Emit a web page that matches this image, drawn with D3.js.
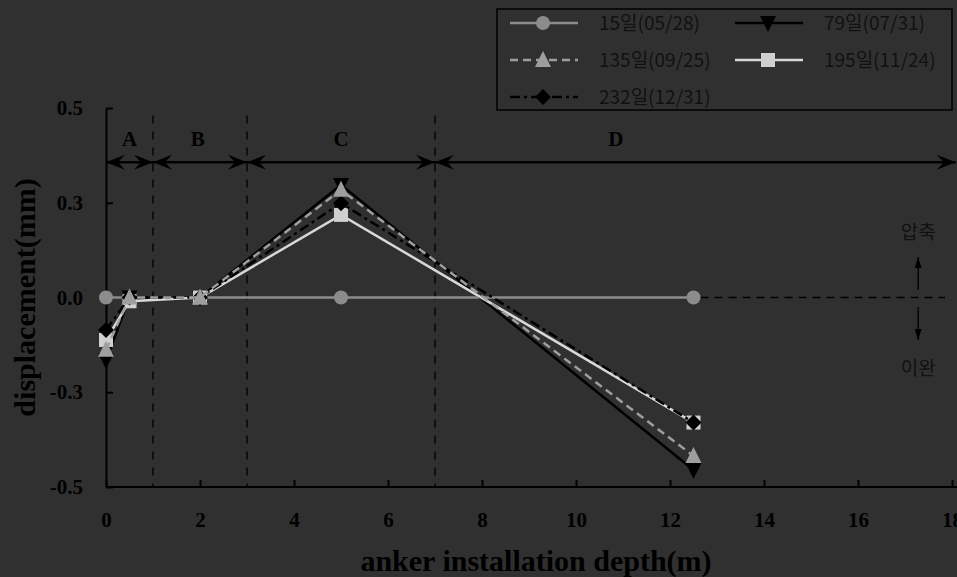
<!DOCTYPE html>
<html>
<head>
<meta charset="utf-8">
<script src="https://cdn.jsdelivr.net/npm/d3@7"></script>
<style>
  html, body { margin: 0; padding: 0; background: #303030; }
  svg { display: block; }
</style>
</head>
<body>
<svg id="chart" width="957" height="577"></svg>
<script>
// Anchor displacement by installation depth, per measurement date
const depth   = [0, 0.5, 2, 5, 12.5];
const day15   = [0, 0, 0, 0, 0];
const day79   = [-0.165, 0.0, 0.0, 0.297, -0.455];
const day135  = [-0.138, 0.0, 0.0, 0.284, -0.418];
const day195  = [-0.112, -0.01, 0.0, 0.218, -0.33];
const day232  = [-0.086, 0.0, 0.0, 0.249, -0.33];

const seriesNames = ["15일(05/28)", "79일(07/31)", "135일(09/25)", "195일(11/24)", "232일(12/31)"];

const xTicks = [0, 2, 4, 6, 8, 10, 12, 14, 16, 18];
const yTicks = [-0.5, -0.25, 0, 0.25, 0.5];
const yTickLabels = ["-0.5", "-0.3", "0.0", "0.3", "0.5"];

const zoneNames  = ["A", "B", "C", "D"];
const zoneBounds = [0, 1, 3, 7, 18];
const zoneLabelAt = [0.5, 1.95, 5, 10.85];

const W = 957, H = 577;
const svg = d3.select("#chart");
svg.append("rect").attr("width", W).attr("height", H).attr("fill", "#303030");

const x = d3.scaleLinear().domain([0, 18]).range([106, 952]);
const y = d3.scaleLinear().domain([-0.5, 0.5]).range([487, 108]);

const serif = "'Liberation Serif', 'Times New Roman', serif";
const sans = "'Noto Sans CJK KR', 'Noto Sans', sans-serif";

// marker shapes
const shapes = {
  circle:  "M7,0A7,7 0 1,1 -7,0A7,7 0 1,1 7,0Z",
  down:    "M0,9L8,-7L-8,-7Z",
  up:      "M0,-9L8,7L-8,7Z",
  square:  "M-7,-7H7V7H-7Z",
  diamond: "M0,-8L8,0L0,8L-8,0Z"
};

const series = [
  { name: seriesNames[0], values: day15,  stroke: "#8c8c8c", dash: null,         fill: "#8c8c8c", shape: "circle" },
  { name: seriesNames[1], values: day79,  stroke: "#000000", dash: null,         fill: "#000000", shape: "down" },
  { name: seriesNames[2], values: day135, stroke: "#9e9e9e", dash: "8,5",        fill: "#9e9e9e", shape: "up" },
  { name: seriesNames[3], values: day195, stroke: "#d8d8d8", dash: null,         fill: "#d0d0d0", shape: "square" },
  { name: seriesNames[4], values: day232, stroke: "#000000", dash: "10,4,3,4",   fill: "#000000", shape: "diamond" }
];
// stacking order of the plotted series (triangles end up on top)
const drawOrder = [0, 1, 3, 4, 2];

// arrowhead definitions
const defs = svg.append("defs");
defs.append("marker")
  .attr("id", "zoneHead")
  .attr("markerUnits", "userSpaceOnUse")
  .attr("viewBox", "-20 -9 21 18")
  .attr("refX", 0).attr("refY", 0)
  .attr("markerWidth", 21).attr("markerHeight", 18)
  .attr("orient", "auto-start-reverse")
  .append("path")
  .attr("d", "M0,0L-19,-7.5L-12,0L-19,7.5Z")
  .attr("fill", "#000");
defs.append("marker")
  .attr("id", "smallHead")
  .attr("markerUnits", "userSpaceOnUse")
  .attr("viewBox", "-12 -5 13 10")
  .attr("refX", 0).attr("refY", 0)
  .attr("markerWidth", 13).attr("markerHeight", 10)
  .attr("orient", "auto")
  .append("path")
  .attr("d", "M0,0L-11,-3.5L-11,3.5Z")
  .attr("fill", "#000");

// zone boundaries (dashed verticals)
svg.append("g").selectAll("line")
  .data(zoneBounds.slice(1, 4))
  .join("line")
  .attr("x1", d => x(d)).attr("x2", d => x(d))
  .attr("y1", y(0.48)).attr("y2", y(-0.5))
  .attr("stroke", "#000").attr("stroke-width", 1.3)
  .attr("stroke-dasharray", "8,8");

// zone arrows
const zoneY = y(0.357);
svg.append("g").selectAll("line")
  .data(zoneNames.map((n, i) => ({ n, a: zoneBounds[i], b: i === 3 ? 18.08 : zoneBounds[i + 1] })))
  .join("line")
  .attr("x1", d => x(d.a)).attr("x2", d => x(d.b))
  .attr("y1", zoneY).attr("y2", zoneY)
  .attr("stroke", "#000").attr("stroke-width", 2.5)
  .attr("marker-start", "url(#zoneHead)")
  .attr("marker-end", "url(#zoneHead)");

svg.append("g").selectAll("text")
  .data(zoneNames)
  .join("text")
  .attr("x", (d, i) => x(zoneLabelAt[i]))
  .attr("y", y(0.42))
  .attr("dy", "0.35em")
  .attr("text-anchor", "middle")
  .attr("font-family", serif).attr("font-weight", "bold").attr("font-size", 21)
  .attr("fill", "#000")
  .text(d => d);

// zero reference continuing to the right
svg.append("line")
  .attr("x1", x(12.5) + 7).attr("x2", x(17.85))
  .attr("y1", y(0)).attr("y2", y(0))
  .attr("stroke", "#000").attr("stroke-width", 1.5)
  .attr("stroke-dasharray", "8,6");

// compression / relaxation annotation
const annX = x(17.28);
svg.append("text").attr("x", annX).attr("y", y(0.173)).attr("dy", "0.35em")
  .attr("text-anchor", "middle").attr("font-family", sans).attr("font-size", 19)
  .attr("fill", "#111").text("압축");
svg.append("text").attr("x", annX).attr("y", y(-0.186)).attr("dy", "0.35em")
  .attr("text-anchor", "middle").attr("font-family", sans).attr("font-size", 19)
  .attr("fill", "#111").text("이완");
svg.append("line").attr("x1", annX).attr("x2", annX)
  .attr("y1", y(0.02)).attr("y2", y(0.107))
  .attr("stroke", "#000").attr("stroke-width", 1.3).attr("marker-end", "url(#smallHead)");
svg.append("line").attr("x1", annX).attr("x2", annX)
  .attr("y1", y(-0.025)).attr("y2", y(-0.112))
  .attr("stroke", "#000").attr("stroke-width", 1.3).attr("marker-end", "url(#smallHead)");

// axes
const yAxis = d3.axisLeft(y)
  .tickValues(yTicks)
  .tickFormat((d, i) => yTickLabels[i])
  .tickSizeInner(-7).tickSizeOuter(0).tickPadding(23);
const gy = svg.append("g").attr("transform", `translate(${x(0)},0)`).call(yAxis);
gy.select(".domain").attr("stroke", "#000").attr("stroke-width", 2);
gy.selectAll(".tick line").attr("stroke", "#000").attr("stroke-width", 2);
gy.selectAll(".tick text")
  .attr("font-family", serif).attr("font-weight", "bold").attr("font-size", 21)
  .attr("fill", "#000");

const xAxis = d3.axisBottom(x)
  .tickValues(xTicks)
  .tickFormat(d3.format("d"))
  .tickSizeInner(-7).tickSizeOuter(0).tickPadding(25);
const gx = svg.append("g").attr("transform", `translate(0,${y(-0.5)})`).call(xAxis);
gx.select(".domain").remove();
gx.append("line").attr("x1", x(0)).attr("x2", W).attr("y1", 0).attr("y2", 0)
  .attr("stroke", "#000").attr("stroke-width", 2);
gx.selectAll(".tick line").attr("stroke", "#000").attr("stroke-width", 2);
gx.selectAll(".tick text")
  .attr("font-family", serif).attr("font-weight", "bold").attr("font-size", 21)
  .attr("fill", "#000");

// axis titles
svg.append("text")
  .attr("transform", `translate(24,${(y(0.5) + y(-0.5)) / 2}) rotate(-90)`)
  .attr("dy", "0.35em")
  .attr("text-anchor", "middle")
  .attr("font-family", serif).attr("font-weight", "bold").attr("font-size", 30)
  .attr("fill", "#000")
  .text("displacement(mm)");
svg.append("text")
  .attr("x", 536).attr("y", 560).attr("dy", "0.35em")
  .attr("text-anchor", "middle")
  .attr("font-family", serif).attr("font-weight", "bold").attr("font-size", 30)
  .attr("fill", "#000")
  .text("anker installation depth(m)");

// series lines and markers
const line = d3.line().x((d, i) => x(depth[i])).y(d => y(d));
drawOrder.map(i => series[i]).forEach(s => {
  const g = svg.append("g");
  g.append("path")
    .attr("d", line(s.values))
    .attr("fill", "none")
    .attr("stroke", s.stroke).attr("stroke-width", 2.5)
    .attr("stroke-dasharray", s.dash);
  g.selectAll("path.pt")
    .data(s.values)
    .join("path").attr("class", "pt")
    .attr("d", shapes[s.shape])
    .attr("transform", (d, i) => `translate(${x(depth[i])},${y(d)})`)
    .attr("fill", s.fill);
});

// legend
const legend = svg.append("g");
legend.append("rect")
  .attr("x", 497).attr("y", 9).attr("width", 455).attr("height", 101)
  .attr("fill", "none").attr("stroke", "#000").attr("stroke-width", 1.5);
const slots = [
  { lx: 510, ty: 23 }, { lx: 735, ty: 23 },
  { lx: 510, ty: 60 }, { lx: 735, ty: 60 },
  { lx: 510, ty: 97 }
];
series.forEach((s, i) => {
  const p = slots[i];
  const g = legend.append("g");
  g.append("line")
    .attr("x1", p.lx).attr("x2", p.lx + 68)
    .attr("y1", p.ty).attr("y2", p.ty)
    .attr("stroke", s.stroke).attr("stroke-width", 2.5)
    .attr("stroke-dasharray", s.dash);
  g.append("path")
    .attr("d", shapes[s.shape])
    .attr("transform", `translate(${p.lx + 33},${p.ty})`)
    .attr("fill", s.fill);
  g.append("text")
    .attr("x", p.lx + 89).attr("y", p.ty).attr("dy", "0.35em")
    .attr("font-family", sans).attr("font-size", 19)
    .attr("fill", "#111")
    .text(s.name);
});
</script>
</body>
</html>
